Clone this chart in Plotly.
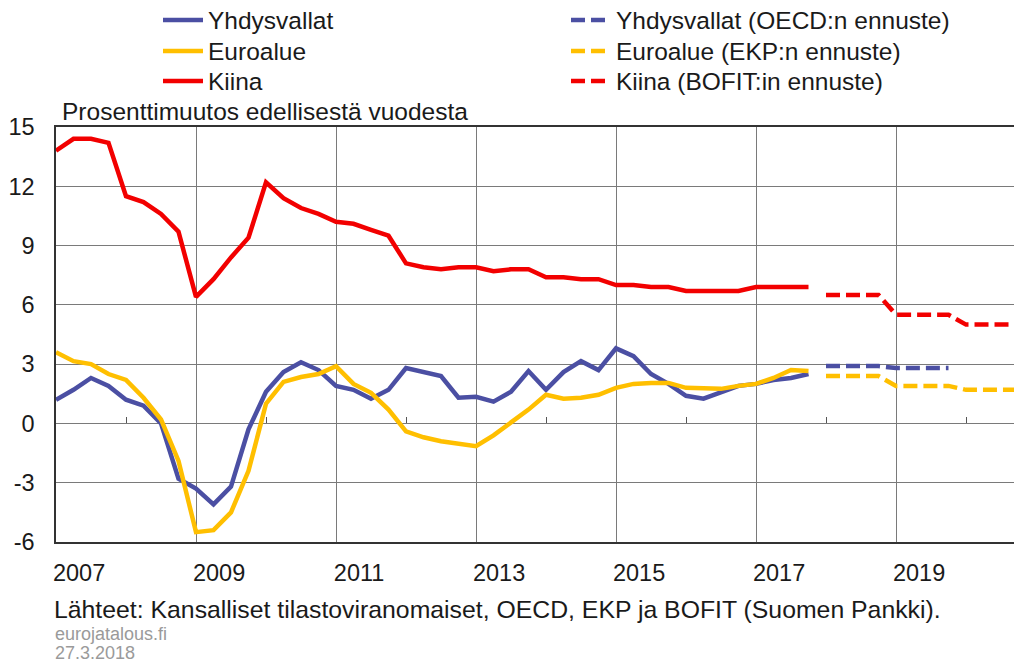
import plotly.graph_objects as go

# ---------------- data ----------------
years_actual = list(range(2007, 2018))
years_fc_long = [2018, 2019, 2020]
years_fc_us = [2018, 2019]

us_actual = [1.2, 1.7, 2.3, 1.9,
             1.2, 0.9, 0.0, -2.8,
             -3.3, -4.1, -3.2, -0.3,
             1.6, 2.6, 3.1, 2.7,
             1.9, 1.7, 1.25, 1.7,
             2.8, 2.6, 2.4, 1.3,
             1.35, 1.1, 1.6, 2.65,
             1.7, 2.6, 3.15, 2.7,
             3.8, 3.4, 2.5, 2.0,
             1.4, 1.25, 1.6, 1.9,
             2.0, 2.2, 2.3, 2.5]
euro_actual = [3.6, 3.15, 3.0, 2.5,
               2.2, 1.3, 0.2, -1.9,
               -5.5, -5.4, -4.5, -2.4,
               1.0, 2.1, 2.35, 2.5,
               2.9, 2.0, 1.55, 0.7,
               -0.4, -0.7, -0.9, -1.0,
               -1.15, -0.6, 0.05, 0.7,
               1.45, 1.25, 1.3, 1.45,
               1.8, 2.0, 2.05, 2.05,
               1.8, 1.8, 1.75, 1.9,
               2.0, 2.3, 2.7, 2.65]
china_actual = [13.8, 14.4, 14.4, 14.2,
                11.5, 11.2, 10.6, 9.7,
                6.4, 7.3, 8.4, 9.4,
                12.2, 11.4, 10.9, 10.6,
                10.2, 10.1, 9.8, 9.5,
                8.1, 7.9, 7.8, 7.9,
                7.9, 7.7, 7.8, 7.8,
                7.4, 7.4, 7.3, 7.3,
                7.0, 7.0, 6.9, 6.9,
                6.7, 6.7, 6.7, 6.7,
                6.9, 6.9, 6.9, 6.9]

us_forecast = [2.9, 2.9, 2.9, 2.9, 2.8, 2.8, 2.8, 2.8]
euro_forecast = [2.4, 2.4, 2.4, 2.4, 1.9, 1.9, 1.9, 1.9, 1.7, 1.7, 1.7, 1.7]
china_forecast = [6.5, 6.5, 6.5, 6.5, 5.5, 5.5, 5.5, 5.5, 5.0, 5.0, 5.0, 5.0]

label_years = [2007, 2009, 2011, 2013, 2015, 2017, 2019]
even_years = [2008, 2010, 2012, 2014, 2016, 2018, 2020]
y_ticks = [-6, -3, 0, 3, 6, 9, 12, 15]

series_names = ["Yhdysvallat", "Yhdysvallat (OECD:n ennuste)",
                "Euroalue", "Euroalue (EKP:n ennuste)",
                "Kiina", "Kiina (BOFIT:in ennuste)"]

title_text = "Prosenttimuutos edellisestä vuodesta"
source_text = "Lähteet: Kansalliset tilastoviranomaiset, OECD, EKP ja BOFIT (Suomen Pankki)."
site_text = "eurojatalous.fi"
date_text = "27.3.2018"


def quarter_x(years):
    return [y + q / 4 for y in years for q in range(4)]


x_act = quarter_x(years_actual)
x_fc_long = quarter_x(years_fc_long)
x_fc_us = quarter_x(years_fc_us)

BLUE = "#4B4FA3"
YELLOW = "#FFBF00"
RED = "#F20000"
FONT = "Liberation Sans, Arial, sans-serif"
TXT = "#1a1a1a"
LW = 4.5
DASH = "14px,6px"

W, H = 1014, 663
ML, MR, MT, MB = 56, 0, 127, 121
PW, PH = W - ML - MR, H - MT - MB


def px_x(px):
    return (px - ML) / PW


def px_y(py):
    return (H - MB - py) / PH


fig = go.Figure()
fig.add_trace(go.Scatter(x=x_act, y=us_actual, mode="lines", name=series_names[0],
                         legend="legend", line=dict(color=BLUE, width=LW)))
fig.add_trace(go.Scatter(x=x_fc_us, y=us_forecast, mode="lines", name=series_names[1],
                         legend="legend", line=dict(color=BLUE, width=LW, dash=DASH)))
fig.add_trace(go.Scatter(x=x_act, y=euro_actual, mode="lines", name=series_names[2],
                         legend="legend2", line=dict(color=YELLOW, width=LW)))
fig.add_trace(go.Scatter(x=x_fc_long, y=euro_forecast, mode="lines", name=series_names[3],
                         legend="legend2", line=dict(color=YELLOW, width=LW, dash=DASH)))
fig.add_trace(go.Scatter(x=x_act, y=china_actual, mode="lines", name=series_names[4],
                         legend="legend3", line=dict(color=RED, width=LW)))
fig.add_trace(go.Scatter(x=x_fc_long, y=china_forecast, mode="lines", name=series_names[5],
                         legend="legend3", line=dict(color=RED, width=LW, dash=DASH)))
# invisible helper trace so the tick-only overlay axis is drawn
fig.add_trace(go.Scatter(x=x_act, y=china_actual, xaxis="x2", mode="markers",
                         marker=dict(opacity=0), showlegend=False, hoverinfo="skip"))

x_range = [2007, 2007 + PW / 70]


def legend_row(row_y):
    return dict(orientation="h", xref="container", yref="container",
                x=158 / W, y=1 - row_y / H, xanchor="left", yanchor="middle",
                entrywidth=353, entrywidthmode="pixels",
                font=dict(size=24.5, color=TXT), itemwidth=40,
                bgcolor="rgba(0,0,0,0)")


fig.update_layout(
    width=W, height=H,
    margin=dict(l=ML, r=MR, t=MT, b=MB),
    paper_bgcolor="white", plot_bgcolor="white",
    font=dict(family=FONT, size=23.5, color=TXT),
    showlegend=True,
    legend=legend_row(20),
    legend2=legend_row(51),
    legend3=legend_row(81),
    xaxis=dict(range=x_range, tickvals=[y + 0.33 for y in label_years],
               ticktext=[str(y) for y in label_years], showgrid=False,
               zeroline=False, ticks="", ticklabelstandoff=9,
               showline=True, linecolor="#333333", linewidth=1.5, mirror=True,
               minor=dict(tick0=2007, dtick=2, showgrid=True, gridcolor="#7a7a7a",
                          gridwidth=1.2, ticks="")),
    xaxis2=dict(overlaying="x", anchor="free", position=6 / 21, side="bottom",
                range=x_range, tickvals=even_years, ticks="inside", ticklen=6,
                tickcolor="#555555", tickwidth=1.2, showticklabels=False,
                showgrid=False, zeroline=False, showline=False),
    yaxis=dict(range=[-6, 15], tickvals=y_ticks, ticktext=[str(v) for v in y_ticks],
               showgrid=True, gridcolor="#7a7a7a",
               gridwidth=1.2, zeroline=False, showline=True, linecolor="#333333",
               linewidth=1.5, ticks="", ticklabelstandoff=15),
)

fig.add_annotation(text=title_text, xref="paper", yref="paper", x=0, y=1,
                   xshift=4, yshift=0, xanchor="left", yanchor="bottom",
                   showarrow=False, font=dict(size=24.5, color=TXT))
fig.add_annotation(text=source_text, xref="paper", yref="paper",
                   x=px_x(52), y=px_y(609), xanchor="left", yanchor="middle",
                   showarrow=False, font=dict(size=24.8, color=TXT))
fig.add_annotation(text=site_text, xref="paper", yref="paper",
                   x=px_x(53), y=px_y(634), xanchor="left", yanchor="middle",
                   showarrow=False, font=dict(size=18, color="#9a9a9a"))
fig.add_annotation(text=date_text, xref="paper", yref="paper",
                   x=px_x(53), y=px_y(653), xanchor="left", yanchor="middle",
                   showarrow=False, font=dict(size=18, color="#9a9a9a"))

fig.write_html("out.html", config={"displayModeBar": False},
               post_script="document.body.style.margin='0';")
